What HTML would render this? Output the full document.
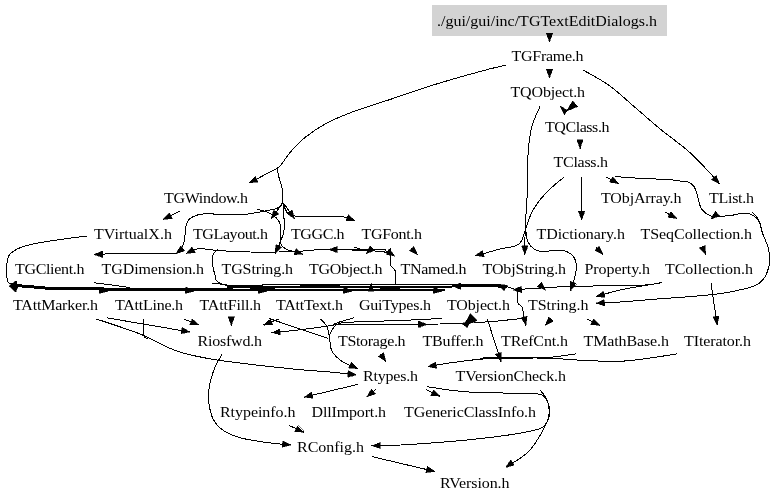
<!DOCTYPE html>
<html><head><meta charset="utf-8"><title>TGTextEditDialogs.h include graph</title>
<style>
html,body{margin:0;padding:0;background:#fff}
svg{display:block;will-change:transform;opacity:0.999}
text{font-family:"Liberation Serif","Times New Roman",serif;font-size:14px;fill:#000}
.e{fill:none;stroke:#000;stroke-width:1;shape-rendering:crispEdges}
.a{fill:#000;stroke:#000;stroke-width:0.5;stroke-linejoin:miter;shape-rendering:crispEdges}
</style></head>
<body>
<svg width="779" height="502" viewBox="0 0 779 502">
<rect x="0" y="0" width="779" height="502" fill="#fff"/>
<rect x="432" y="5" width="235" height="31" fill="#d3d3d3"/>
<g class="e">
<path d="M549.5,36.0 L549.5,42.0"/>
<path d="M549.5,69.0 L549.5,78.0"/>
<path d="M580.0,140.0 L580.0,148.5"/>
<path d="M506.0,65.0 C501.7,66.1 492.7,68.0 480.0,71.5 C467.3,75.0 445.0,81.3 430.0,86.0 C415.0,90.7 402.5,95.3 390.0,99.5 C377.5,103.7 365.5,107.1 355.0,111.0 C344.5,114.9 335.3,118.6 327.0,123.0 C318.7,127.4 311.2,132.6 305.0,137.5 C298.8,142.4 294.3,147.6 290.0,152.5 C285.7,157.4 282.7,163.6 279.0,167.0 C275.3,170.4 271.8,170.9 268.0,173.0 C264.2,175.1 259.2,177.8 256.0,179.5 C252.8,181.2 250.2,182.4 249.0,183.0"/>
<path d="M583.0,70.0 C587.4,72.6 600.8,79.4 609.5,85.7 C618.2,92.0 626.8,100.4 635.4,107.7 C644.0,115.0 652.4,122.6 661.0,129.7 C669.6,136.8 679.3,143.3 687.0,150.0 C694.7,156.7 701.6,164.1 707.0,169.8 C712.4,175.5 717.4,181.6 719.5,184.0"/>
<path d="M540.0,106.5 C538.7,109.8 534.0,118.5 532.0,126.0 C530.0,133.5 528.9,141.7 528.2,151.5 C527.5,161.3 528.1,173.6 527.7,185.0 C527.3,196.4 526.2,210.0 525.7,220.0 C525.2,230.0 524.9,239.2 524.8,245.0 C524.6,250.8 524.8,252.9 524.8,254.5"/>
<path d="M526.0,232.0 C526.3,233.7 526.7,239.2 528.0,242.0 C529.3,244.8 531.7,247.4 534.0,249.0 C536.3,250.6 537.3,251.3 542.0,251.5 C546.7,251.7 556.9,249.7 562.0,250.4 C567.1,251.1 570.0,252.9 572.4,255.5 C574.8,258.1 576.2,261.9 576.5,266.0 C576.8,270.1 575.0,275.9 574.0,280.0 C573.0,284.1 570.9,288.8 570.3,290.5"/>
<path d="M581.6,177.0 L581.6,220.0"/>
<path d="M564.2,177.0 C561.2,179.6 551.4,187.1 546.2,192.6 C541.0,198.1 536.4,204.1 533.0,210.0 C529.6,215.9 528.3,222.3 526.0,228.0 C523.7,233.7 523.3,240.5 519.0,244.0 C514.7,247.5 505.8,247.4 500.0,249.0 C494.2,250.6 488.2,252.4 484.0,253.5 C479.8,254.6 476.5,255.2 475.0,255.5"/>
<path d="M606.5,177.0 L618.6,183.6"/>
<path d="M615.5,176.6 C619.8,176.9 632.2,177.9 641.0,178.4 C649.8,178.9 661.5,179.1 668.0,179.5 C674.5,179.9 676.7,180.6 680.0,181.0 C683.3,181.4 685.4,180.9 687.8,181.9 C690.2,182.9 692.6,184.5 694.2,186.8 C695.8,189.1 696.4,192.5 697.5,195.9 C698.6,199.3 699.3,204.6 700.7,207.5 C702.1,210.4 704.0,211.9 705.9,213.4 C707.8,214.9 711.3,216.1 712.4,216.6"/>
<path d="M664.5,211.8 L677.0,218.5"/>
<path d="M715.0,216.9 C715.6,216.8 716.0,216.9 718.8,216.6 C721.6,216.3 727.9,215.8 731.8,215.3 C735.7,214.8 739.0,213.6 742.0,213.4 C745.0,213.2 747.6,213.2 750.0,214.0 C752.4,214.8 754.7,216.2 756.4,217.9 C758.1,219.6 759.2,222.1 760.2,224.4 C761.2,226.8 761.9,230.7 762.2,232.0"/>
<path d="M751.8,212.0 C752.8,213.0 756.1,215.7 757.6,217.9 C759.1,220.1 759.8,222.7 760.5,225.0 C761.2,227.3 760.8,228.1 762.0,231.8 C763.2,235.5 766.7,242.5 768.0,247.0 C769.3,251.5 769.6,255.4 769.7,258.8 C769.8,262.2 769.6,264.2 768.8,267.3 C767.9,270.4 766.4,274.7 764.6,277.5 C762.8,280.3 760.6,282.4 757.8,284.2 C755.0,285.9 752.2,286.7 747.7,288.0 C743.2,289.3 736.4,290.7 730.8,291.8 C725.1,292.9 719.4,293.7 713.8,294.4 C708.2,295.1 702.6,295.5 697.0,296.0 C691.4,296.5 687.7,296.8 680.0,297.4 C672.3,298.0 661.0,298.7 651.0,299.5 C641.0,300.3 629.2,301.4 620.0,302.0 C610.8,302.6 600.0,303.0 596.0,303.2"/>
<path d="M702.2,246.5 L705.7,254.6"/>
<path d="M596.0,247.3 L603.0,254.5"/>
<path d="M660.0,283.0 C656.7,283.6 646.7,285.1 640.0,286.3 C633.3,287.5 627.3,288.3 620.0,290.0 C612.7,291.7 600.0,295.5 596.0,296.6"/>
<path d="M662.0,282.5 C658.3,283.0 654.9,284.7 640.0,285.3 C625.1,285.9 588.8,285.9 572.4,286.3 C556.0,286.8 549.2,287.6 541.6,288.0 C534.0,288.4 530.4,288.6 527.0,288.8 C523.6,289.1 522.0,289.4 521.0,289.5"/>
<path d="M711.0,283.4 L717.2,325.0"/>
<path d="M180.0,211.0 L163.0,219.5"/>
<path d="M256.7,209.0 C258.9,209.7 266.2,211.3 270.0,213.4 C273.8,215.5 277.6,218.7 279.3,221.8 C281.1,224.9 280.4,228.2 280.5,231.8 C280.6,235.4 280.7,239.9 279.8,243.5 C278.9,247.1 275.8,251.9 275.0,253.6"/>
<path d="M278.0,167.0 C277.9,167.5 277.3,168.2 277.5,170.0 C277.7,171.8 278.2,174.2 279.0,177.5 C279.8,180.8 281.8,185.8 282.5,190.0 C283.2,194.2 282.7,196.6 283.0,203.0 C283.3,209.4 284.6,222.3 284.3,228.5 C284.0,234.7 281.7,237.5 281.0,240.0 C280.3,242.5 281.0,241.2 280.0,243.5 C279.0,245.8 275.8,251.9 275.0,253.6"/>
<path d="M280.5,243.0 C280.9,243.7 281.7,245.8 283.0,247.0 C284.3,248.2 286.5,249.5 288.5,250.3 C290.5,251.1 292.6,250.9 295.0,251.6 C297.4,252.3 301.7,253.9 303.0,254.3"/>
<path d="M283.0,203.0 L271.0,218.8"/>
<path d="M283.5,203.0 L294.4,218.8"/>
<path d="M284.0,204.0 C284.2,204.7 284.0,206.6 285.0,208.4 C286.0,210.2 286.3,213.6 290.0,215.0 C293.7,216.4 300.0,216.6 307.0,216.8 C314.0,217.0 325.3,216.3 332.0,216.4 C338.7,216.5 343.2,216.8 347.0,217.5 C350.8,218.2 353.7,220.1 355.0,220.6"/>
<path d="M283.0,201.0 C282.2,202.1 281.5,205.9 278.5,207.6 C275.5,209.3 271.4,209.8 265.0,211.0 C258.6,212.2 250.3,214.3 240.0,214.8 C229.7,215.3 211.4,213.3 203.0,214.0 C194.6,214.7 192.5,216.7 189.6,219.0 C186.7,221.3 186.3,224.3 185.5,228.0 C184.7,231.7 185.4,237.2 184.5,241.0 C183.6,244.8 181.4,248.4 180.0,250.5 C178.6,252.6 176.7,253.2 176.0,253.7"/>
<path d="M176.0,253.2 C171.7,253.2 159.3,253.1 150.0,253.2 C140.7,253.2 129.3,253.3 120.0,253.5 C110.7,253.7 98.3,254.3 94.0,254.5"/>
<path d="M275.0,252.5 C270.8,252.4 259.5,252.3 250.0,252.0 C240.5,251.7 226.2,251.1 218.0,250.5 C209.8,249.9 204.8,248.6 200.5,248.6 C196.2,248.6 194.4,249.7 192.0,250.5 C189.6,251.3 187.0,253.2 186.0,253.7"/>
<path d="M218.0,249.0 C217.1,250.1 213.7,252.7 212.8,255.5 C211.9,258.3 212.4,262.4 212.8,265.8 C213.2,269.2 214.6,273.5 215.3,276.0 C216.0,278.5 215.1,279.4 217.0,281.0 C218.9,282.6 219.5,284.5 227.0,285.3 C234.5,286.1 256.2,285.6 262.0,285.6"/>
<path d="M212.0,283.0 C213.3,283.2 215.3,283.3 220.0,284.0 C224.7,284.7 236.7,286.5 240.0,287.0"/>
<path d="M279.0,251.5 C283.0,251.4 296.2,251.3 303.0,251.0 C309.8,250.7 312.2,249.8 320.0,249.6 C327.8,249.4 339.7,249.6 350.0,249.6 C360.3,249.6 376.0,249.4 382.0,249.6 C388.0,249.8 384.8,250.4 386.0,251.0 C387.2,251.6 388.5,253.0 389.0,253.4"/>
<path d="M352.5,250.6 C357.2,250.7 374.6,250.7 380.7,251.3 C386.8,251.9 387.6,253.6 389.0,254.0"/>
<path d="M354.0,247.0 C354.7,247.2 356.7,248.1 358.0,248.5 C359.3,248.9 361.3,249.2 362.0,249.3"/>
<path d="M390.2,247.8 C390.2,250.4 390.0,260.1 390.2,263.3 C390.4,266.5 390.7,265.4 391.6,266.8 C392.5,268.2 395.0,269.1 395.7,272.0 C396.4,274.9 395.7,282.2 395.7,284.3"/>
<path d="M411.5,248.5 L417.5,254.8"/>
<path d="M87.5,236.0 C81.2,236.8 60.4,239.3 50.0,241.0 C39.6,242.7 31.5,244.0 25.0,246.0 C18.5,248.0 13.9,250.7 11.0,253.0 C8.1,255.3 8.2,257.2 7.5,260.0 C6.8,262.8 6.6,266.7 6.6,270.0 C6.5,273.3 6.9,277.7 7.2,279.7 C7.5,281.7 7.7,281.4 8.2,282.0 C8.7,282.6 8.8,282.9 10.3,283.5 C11.8,284.1 15.9,285.2 17.0,285.5"/>
<path d="M507.0,286.5 C508.0,286.9 511.2,288.3 513.0,288.8 C514.8,289.3 517.2,289.4 518.0,289.5"/>
<path d="M94.0,282.8 C97.0,283.2 106.0,284.2 112.0,285.0 C118.0,285.8 127.0,287.1 130.0,287.5"/>
<path d="M518.0,290.4 C518.0,292.5 517.3,300.0 518.0,302.8 C518.7,305.6 521.0,304.6 522.0,307.0 C523.0,309.4 523.3,313.9 524.0,317.0 C524.7,320.1 525.7,324.0 526.0,325.4"/>
<path d="M551.0,319.0 L545.3,325.3"/>
<path d="M587.0,319.0 L600.0,325.4"/>
<path d="M523.0,318.3 C519.2,318.7 507.2,320.1 500.0,320.8 C492.8,321.5 484.3,322.0 480.0,322.4 C475.7,322.8 475.0,322.9 474.0,323.0"/>
<path d="M462.0,323.5 C458.3,323.6 450.3,323.9 440.0,324.0 C429.7,324.1 416.7,324.2 400.0,324.3 C383.3,324.4 351.3,324.3 340.0,324.5 C328.7,324.7 338.7,324.6 332.0,325.5 C325.3,326.4 310.1,328.6 300.0,329.8 C289.9,331.0 276.2,332.2 271.5,332.7"/>
<path d="M442.0,318.4 C435.0,318.8 414.7,319.9 400.0,320.5 C385.3,321.1 364.5,321.4 354.0,322.0 C343.5,322.6 341.2,322.0 337.0,324.3 C332.8,326.6 330.3,333.9 329.0,335.8"/>
<path d="M354.0,317.8 C351.3,318.6 341.7,321.2 338.0,322.5 C334.3,323.8 333.0,325.0 332.0,325.5"/>
<path d="M487.3,319.0 L501.0,361.5"/>
<path d="M106.7,317.8 L190.0,332.0"/>
<path d="M183.7,319.0 L199.0,325.0"/>
<path d="M231.3,316.5 L231.3,325.5"/>
<path d="M278.5,319.0 L263.5,325.0"/>
<path d="M269.0,318.4 C274.3,320.2 291.2,326.1 301.0,329.4 C310.8,332.7 323.5,336.9 328.0,338.4"/>
<path d="M96.4,319.0 C103.9,321.6 127.8,329.1 141.3,334.5 C154.8,339.9 164.5,346.9 177.3,351.2 C190.2,355.5 199.6,357.3 218.4,360.2 C237.2,363.1 271.4,366.7 290.0,368.7 C308.6,370.7 318.9,371.0 330.0,372.0 C341.1,373.0 352.0,374.3 356.4,374.8"/>
<path d="M144.0,319.0 C144.0,321.8 143.4,332.5 144.0,335.8 C144.6,339.1 147.2,338.1 147.8,338.6"/>
<path d="M320.5,319.0 C321.6,320.3 325.5,323.6 327.0,326.8 C328.5,330.0 328.7,334.3 329.5,338.4 C330.3,342.5 329.9,347.3 332.0,351.2 C334.1,355.1 338.0,358.6 342.3,361.5 C346.6,364.4 355.1,367.5 357.7,368.7"/>
<path d="M380.3,353.8 L386.0,361.5"/>
<path d="M677.4,353.8 C672.8,354.5 659.3,356.8 650.0,358.0 C640.7,359.2 631.9,360.8 621.5,361.2 C611.1,361.6 599.0,361.1 587.7,360.6 C576.4,360.2 565.1,358.9 553.8,358.5 C542.5,358.1 531.6,357.8 520.0,357.9 C508.4,358.0 495.7,358.1 484.2,358.9 C472.7,359.7 460.2,361.5 450.8,362.8 C441.4,364.1 431.6,366.0 427.7,366.6"/>
<path d="M576.0,353.8 C571.8,354.4 557.7,356.6 550.5,357.3 C543.3,358.0 535.9,357.9 533.0,358.0"/>
<path d="M357.8,384.4 L304.0,397.2"/>
<path d="M375.8,389.5 L366.8,396.8"/>
<path d="M426.0,389.7 L440.0,396.2"/>
<path d="M427.2,386.7 C433.8,387.6 449.7,390.7 467.0,391.9 C484.3,393.1 518.4,393.0 531.2,393.7 C544.0,394.4 540.9,393.5 544.0,396.3 C547.1,399.1 549.5,405.7 549.7,410.4 C549.9,415.1 548.4,421.1 545.3,424.5 C542.2,427.9 542.1,428.6 531.2,431.0 C520.3,433.4 500.2,436.4 480.0,438.6 C459.8,440.9 428.1,443.3 410.0,444.5 C391.9,445.7 377.9,445.6 371.5,445.8"/>
<path d="M540.2,390.4 C541.3,391.8 545.1,395.0 546.6,398.8 C548.1,402.6 549.6,408.1 549.2,413.0 C548.8,417.9 547.4,421.9 544.0,428.3 C540.6,434.7 535.0,445.0 528.6,451.5 C522.2,458.0 509.4,464.8 505.5,467.4"/>
<path d="M222.2,353.8 C220.7,356.8 215.5,365.0 213.2,371.8 C210.9,378.6 208.8,387.6 208.5,394.9 C208.2,402.2 209.6,409.9 211.6,415.5 C213.6,421.1 216.0,424.7 220.5,428.3 C225.0,431.9 230.8,434.9 238.5,437.3 C246.2,439.7 258.1,441.2 266.8,442.5 C275.6,443.8 287.0,444.6 291.0,445.0"/>
<path d="M288.6,425.3 L304.0,432.2"/>
<path d="M372.0,456.6 L435.0,471.5"/>
<path d="M16.0,285.6 C18.3,285.8 25.2,286.2 30.0,286.6 C34.8,287.0 36.7,287.6 45.0,288.0 C53.3,288.4 62.5,288.7 80.0,288.9 C97.5,289.1 125.0,289.1 150.0,289.2 C175.0,289.3 216.7,289.5 230.0,289.6" stroke-width="3"/>
<path d="M262,284.5 L452,284.5" stroke-width="1"/>
<path d="M228,286.6 L262,286.2 L262,287 L228,287.6 Z M262,287 L452,287" stroke-width="2"/>
<path d="M228,289.7 L445,289.7" stroke-width="1.7"/>
<path d="M300,285.5 L340,285.5 M380,288.5 L400,288.5 M250,288.5 L275,288.5" stroke-width="1"/>
<path d="M452.0,285.0 C458.5,285.0 483.0,285.0 491.0,285.2 C499.0,285.4 497.3,286.0 500.0,286.3 C502.7,286.6 505.8,286.7 507.0,286.8" stroke-width="3"/>
<path d="M480.0,358.6 C484.2,358.5 496.2,357.9 505.0,357.8 C513.8,357.7 528.3,357.8 533.0,357.8" stroke-width="2"/>
</g>
<g class="a">
<polygon points="549.5,42.0 546.3,33.4 552.7,33.4"/>
<polygon points="549.5,78.0 546.3,69.4 552.7,69.4"/>
<polygon points="580.0,148.5 576.8,139.9 583.2,139.9"/>
<polygon points="249.0,183.0 255.3,176.3 258.1,182.0"/>
<polygon points="719.5,184.0 711.4,179.7 716.2,175.4"/>
<polygon points="524.8,254.5 521.6,245.9 528.0,245.9"/>
<polygon points="570.3,290.5 570.1,281.3 576.2,283.5"/>
<polygon points="581.6,220.0 578.4,211.4 584.8,211.4"/>
<polygon points="475.0,255.5 482.7,250.5 484.1,256.8"/>
<polygon points="618.6,183.6 609.5,182.3 612.6,176.7"/>
<polygon points="711.0,219.2 715.3,211.1 719.6,215.9"/>
<polygon points="677.0,218.5 667.9,217.3 670.9,211.6"/>
<polygon points="596.0,303.2 604.4,299.6 604.7,306.0"/>
<polygon points="705.7,254.6 699.4,248.0 705.2,245.4"/>
<polygon points="603.0,254.5 594.7,250.6 599.3,246.1"/>
<polygon points="596.0,296.6 603.4,291.2 605.1,297.4"/>
<polygon points="513.0,290.0 521.4,286.2 521.8,292.6"/>
<polygon points="717.2,325.0 712.8,317.0 719.1,316.0"/>
<polygon points="163.0,219.5 169.3,212.8 172.1,218.5"/>
<polygon points="275.0,253.6 275.8,244.5 281.6,247.2"/>
<polygon points="303.0,254.3 293.8,254.6 295.9,248.5"/>
<polygon points="271.0,218.8 273.7,210.0 278.7,213.9"/>
<polygon points="294.4,218.8 286.9,213.5 292.2,209.9"/>
<polygon points="355.0,220.6 345.8,220.5 348.1,214.5"/>
<polygon points="176.0,253.7 180.7,245.8 184.7,250.8"/>
<polygon points="94.0,254.5 102.5,251.1 102.7,257.5"/>
<polygon points="186.0,253.7 192.1,246.8 195.1,252.5"/>
<polygon points="328.8,249.6 337.4,246.4 337.4,252.8"/>
<polygon points="366.0,254.0 370.1,245.8 374.4,250.4"/>
<polygon points="395.0,256.2 386.0,254.4 389.3,249.0"/>
<polygon points="417.5,254.8 409.3,250.8 413.9,246.4"/>
<polygon points="9.0,286.0 16.3,280.5 18.2,286.6"/>
<polygon points="9.0,286.0 18.2,286.2 15.8,292.2"/>
<polygon points="108.0,291.3 99.1,293.4 99.9,287.0"/>
<polygon points="194.0,291.3 185.1,293.4 185.9,287.0"/>
<polygon points="267.0,291.3 258.1,293.4 258.9,287.0"/>
<polygon points="352.0,291.3 343.1,293.4 343.9,287.0"/>
<polygon points="442.0,291.3 433.1,293.4 433.9,287.0"/>
<polygon points="452.0,286.0 460.7,283.0 460.5,289.4"/>
<polygon points="371.0,282.5 374.2,291.1 367.8,291.1"/>
<polygon points="498.0,284.0 507.1,285.4 504.0,291.0"/>
<polygon points="545.7,290.4 537.3,286.6 541.8,282.1"/>
<polygon points="526.0,325.4 520.9,317.8 527.1,316.3"/>
<polygon points="545.3,325.3 548.7,316.8 553.4,321.1"/>
<polygon points="600.0,325.4 590.9,324.5 593.7,318.7"/>
<polygon points="271.5,332.7 279.7,328.6 280.4,335.0"/>
<polygon points="427.0,324.2 418.5,327.5 418.4,321.1"/>
<polygon points="501.0,361.5 495.3,354.3 501.4,352.3"/>
<polygon points="190.0,332.0 181.0,333.7 182.1,327.4"/>
<polygon points="199.0,325.0 189.8,324.8 192.2,318.9"/>
<polygon points="231.3,325.5 228.1,316.9 234.5,316.9"/>
<polygon points="263.5,325.0 270.3,318.8 272.7,324.8"/>
<polygon points="356.4,374.8 347.5,377.1 348.2,370.7"/>
<polygon points="357.7,368.7 348.6,368.0 351.3,362.2"/>
<polygon points="386.0,361.5 378.3,356.5 383.5,352.7"/>
<polygon points="427.7,366.6 435.7,362.0 436.7,368.4"/>
<polygon points="304.0,397.2 311.6,392.1 313.1,398.3"/>
<polygon points="366.8,396.8 371.5,388.9 375.5,393.9"/>
<polygon points="440.0,396.2 430.9,395.5 433.5,389.7"/>
<polygon points="371.5,445.8 380.0,442.3 380.2,448.7"/>
<polygon points="505.5,467.4 510.8,459.9 514.4,465.2"/>
<polygon points="291.0,445.0 282.1,447.3 282.8,440.9"/>
<polygon points="304.0,432.2 294.8,431.6 297.5,425.8"/>
<polygon points="435.0,471.5 425.9,472.6 427.4,466.4"/>
<polygon points="560.1,105.9 564.3,114.9 567.0,111.0 577.7,106.6 572.6,100.8 568.5,108.0 566.5,109.8"/>
<polygon points="470.4,313.8 477.0,320.3 472.7,322.6 469.3,323.6 467.3,327.6 461.6,323.4 465.4,322.3"/>
</g>
<g>
<text transform="translate(437.0,26.0) scale(1.1429,1)" textLength="192.5" lengthAdjust="spacing">./gui/gui/inc/TGTextEditDialogs.h</text>
<text transform="translate(511.5,60.7) scale(1.1429,1)" textLength="63.0" lengthAdjust="spacing">TGFrame.h</text>
<text transform="translate(510.5,97.0) scale(1.1429,1)" textLength="65.2" lengthAdjust="spacing">TQObject.h</text>
<text transform="translate(545.0,132.0) scale(1.1429,1)" textLength="56.4" lengthAdjust="spacing">TQClass.h</text>
<text transform="translate(553.5,167.3) scale(1.1429,1)" textLength="47.7" lengthAdjust="spacing">TClass.h</text>
<text transform="translate(164.0,203.0) scale(1.1429,1)" textLength="73.5" lengthAdjust="spacing">TGWindow.h</text>
<text transform="translate(601.0,203.0) scale(1.1429,1)" textLength="70.4" lengthAdjust="spacing">TObjArray.h</text>
<text transform="translate(709.0,203.0) scale(1.1429,1)" textLength="39.4" lengthAdjust="spacing">TList.h</text>
<text transform="translate(94.0,238.5) scale(1.1429,1)" textLength="68.2" lengthAdjust="spacing">TVirtualX.h</text>
<text transform="translate(193.0,238.5) scale(1.1429,1)" textLength="65.6" lengthAdjust="spacing">TGLayout.h</text>
<text transform="translate(291.0,238.5) scale(1.1429,1)" textLength="46.8" lengthAdjust="spacing">TGGC.h</text>
<text transform="translate(361.5,238.5) scale(1.1429,1)" textLength="52.9" lengthAdjust="spacing">TGFont.h</text>
<text transform="translate(536.5,238.5) scale(1.1429,1)" textLength="77.4" lengthAdjust="spacing">TDictionary.h</text>
<text transform="translate(640.5,238.5) scale(1.1429,1)" textLength="97.6" lengthAdjust="spacing">TSeqCollection.h</text>
<text transform="translate(15.0,273.8) scale(1.1429,1)" textLength="60.8" lengthAdjust="spacing">TGClient.h</text>
<text transform="translate(101.5,273.8) scale(1.1429,1)" textLength="89.7" lengthAdjust="spacing">TGDimension.h</text>
<text transform="translate(221.5,273.8) scale(1.1429,1)" textLength="62.6" lengthAdjust="spacing">TGString.h</text>
<text transform="translate(309.0,273.8) scale(1.1429,1)" textLength="64.3" lengthAdjust="spacing">TGObject.h</text>
<text transform="translate(400.5,273.8) scale(1.1429,1)" textLength="57.8" lengthAdjust="spacing">TNamed.h</text>
<text transform="translate(482.5,273.8) scale(1.1429,1)" textLength="73.1" lengthAdjust="spacing">TObjString.h</text>
<text transform="translate(584.5,273.8) scale(1.1429,1)" textLength="57.3" lengthAdjust="spacing">Property.h</text>
<text transform="translate(665.0,273.8) scale(1.1429,1)" textLength="77.0" lengthAdjust="spacing">TCollection.h</text>
<text transform="translate(13.0,309.7) scale(1.1429,1)" textLength="74.4" lengthAdjust="spacing">TAttMarker.h</text>
<text transform="translate(115.0,309.7) scale(1.1429,1)" textLength="59.5" lengthAdjust="spacing">TAttLine.h</text>
<text transform="translate(199.5,309.7) scale(1.1429,1)" textLength="53.8" lengthAdjust="spacing">TAttFill.h</text>
<text transform="translate(276.0,309.7) scale(1.1429,1)" textLength="58.6" lengthAdjust="spacing">TAttText.h</text>
<text transform="translate(359.0,309.7) scale(1.1429,1)" textLength="63.0" lengthAdjust="spacing">GuiTypes.h</text>
<text transform="translate(447.0,309.7) scale(1.1429,1)" textLength="55.1" lengthAdjust="spacing">TObject.h</text>
<text transform="translate(528.0,309.7) scale(1.1429,1)" textLength="52.9" lengthAdjust="spacing">TString.h</text>
<text transform="translate(197.5,345.5) scale(1.1429,1)" textLength="56.4" lengthAdjust="spacing">Riosfwd.h</text>
<text transform="translate(338.0,345.5) scale(1.1429,1)" textLength="59.1" lengthAdjust="spacing">TStorage.h</text>
<text transform="translate(422.5,345.5) scale(1.1429,1)" textLength="53.4" lengthAdjust="spacing">TBuffer.h</text>
<text transform="translate(501.0,345.5) scale(1.1429,1)" textLength="58.6" lengthAdjust="spacing">TRefCnt.h</text>
<text transform="translate(583.5,345.5) scale(1.1429,1)" textLength="74.8" lengthAdjust="spacing">TMathBase.h</text>
<text transform="translate(684.0,345.5) scale(1.1429,1)" textLength="58.6" lengthAdjust="spacing">TIterator.h</text>
<text transform="translate(363.0,381.0) scale(1.1429,1)" textLength="48.1" lengthAdjust="spacing">Rtypes.h</text>
<text transform="translate(455.5,381.0) scale(1.1429,1)" textLength="96.7" lengthAdjust="spacing">TVersionCheck.h</text>
<text transform="translate(220.0,416.6) scale(1.1429,1)" textLength="66.1" lengthAdjust="spacing">Rtypeinfo.h</text>
<text transform="translate(311.5,416.6) scale(1.1429,1)" textLength="65.2" lengthAdjust="spacing">DllImport.h</text>
<text transform="translate(404.0,416.6) scale(1.1429,1)" textLength="115.5" lengthAdjust="spacing">TGenericClassInfo.h</text>
<text transform="translate(297.0,451.6) scale(1.1429,1)" textLength="58.6" lengthAdjust="spacing">RConfig.h</text>
<text transform="translate(440.0,487.6) scale(1.1429,1)" textLength="60.8" lengthAdjust="spacing">RVersion.h</text>
</g>
</svg>
</body></html>
